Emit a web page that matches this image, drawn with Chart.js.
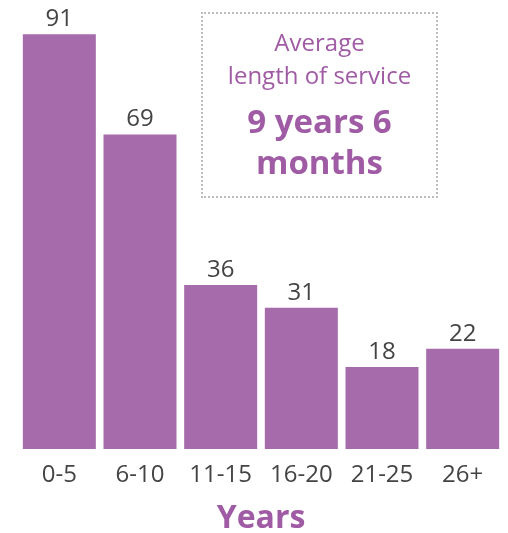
<!DOCTYPE html>
<html>
<head>
<meta charset="utf-8">
<script src="https://cdn.jsdelivr.net/npm/chart.js@4"></script>
<style>
  html, body { margin: 0; padding: 0; background: #fff; }
  #wrap { position: relative; width: 508px; height: 533px; }
  #note {
    position: absolute; left: 201px; top: 12px; width: 233px; height: 182px;
    border: 2px dotted #bdbdbd; text-align: center; color: #a05ba5;
    font-family: "Open Sans", sans-serif;
  }
  #note .small { font-size: 24px; line-height: 33px; }
  #note .big { font-size: 33px; font-weight: bold; line-height: 41px; }
</style>
</head>
<body>
<div id="wrap">
  <canvas id="chartService" width="508" height="533"></canvas>
  <div id="note">
    <div class="small" style="margin-top:11px">Average</div>
    <div class="small">length of service</div>
    <div class="big" style="margin-top:9px">9 years 6</div>
    <div class="big">months</div>
  </div>
</div>
<script>
const categories = ["0-5", "6-10", "11-15", "16-20", "21-25", "26+"];
const employees = [91, 69, 36, 31, 18, 22];
const axisTitle = "Years";

// etiquetas encima de cada barra
const valueLabels = {
  id: "valueLabels",
  afterDatasetsDraw(chart) {
    const ctx = chart.ctx;
    ctx.save();
    ctx.font = "24px 'Open Sans'";
    ctx.fillStyle = "#444";
    ctx.textAlign = "center";
    ctx.textBaseline = "alphabetic";
    chart.getDatasetMeta(0).data.forEach((bar, i) => {
      ctx.fillText(employees[i], bar.x, bar.y - 8);
    });
    ctx.restore();
  },
};

const ctx = document.getElementById("chartService").getContext("2d");
new Chart(ctx, {
  type: "bar",
  data: {
    labels: categories,
    datasets: [
      {
        data: employees,
        backgroundColor: "#a66bab",
        borderWidth: 0,
        barPercentage: 0.905,
        categoryPercentage: 1,
      },
    ],
  },
  options: {
    responsive: false,
    animation: false,
    layout: { padding: { left: 19, right: 5, top: 0, bottom: 0 } },
    plugins: { legend: { display: false }, tooltip: { enabled: false } },
    scales: {
      y: { display: false, min: 0, max: 98.5 },
      x: {
        grid: { display: false, drawTicks: false },
        border: { display: false },
        ticks: { color: "#444", font: { family: "Open Sans", size: 24 }, padding: 12 },
        title: {
          display: true,
          text: axisTitle,
          color: "#a05ba5",
          font: { family: "Open Sans", size: 32, weight: "bold" },
          padding: { top: 0, bottom: -5 },
        },
        afterFit: (scale) => { scale.height = 84; },
      },
    },
  },
  plugins: [valueLabels],
});
</script>
</body>
</html>
